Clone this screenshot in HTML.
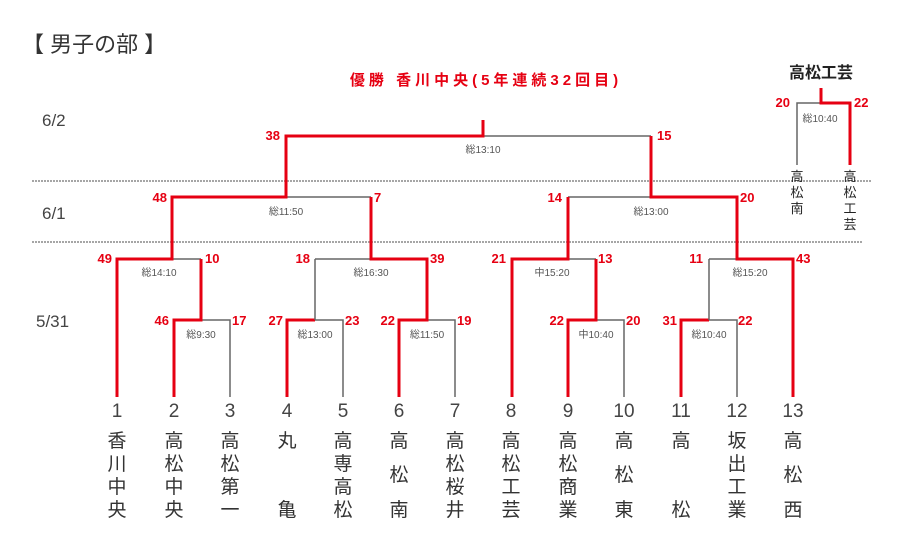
<!DOCTYPE html>
<html><head><meta charset="utf-8"><style>
html,body{margin:0;padding:0;background:#fff;}
svg{display:block;}
text{font-family:"Liberation Sans","Noto Sans CJK JP",sans-serif;}
.s{fill:#e60012;font-size:13px;font-weight:bold;}
.t{fill:#555;font-size:10px;text-anchor:middle;}
.g{stroke:#666;stroke-width:1.5;fill:none;}
.r{stroke:#e60012;stroke-width:3;fill:none;}
.n{fill:#444;font-size:19px;text-anchor:middle;}
.d{fill:#444;font-size:17px;}
</style></head><body>
<svg width="900" height="550" viewBox="0 0 900 550" xmlns="http://www.w3.org/2000/svg">
<text x="22" y="52" font-size="22" fill="#333">【 男子の部 】</text>
<text x="486" y="85" font-size="15" font-weight="bold" fill="#e60012" text-anchor="middle" letter-spacing="4">優勝 香川中央(5年連続32回目)</text>
<text x="42" y="126" class="d">6/2</text>
<text x="42" y="219" class="d">6/1</text>
<text x="36" y="327" class="d">5/31</text>
<line x1="32" y1="181" x2="872" y2="181" stroke="#888" stroke-width="1.5" stroke-dasharray="2,1"/>
<line x1="32" y1="242" x2="862" y2="242" stroke="#888" stroke-width="1.5" stroke-dasharray="2,1"/>

<path class="g" d="M286 136H651 M172 197H371 M568 197H737 M117 259H201 M315 259H427 M512 259H596 M709 259H793 M173 320H230V397 M287 320H343V397 M399 320H455V397 M568 320H624V397 M681 320H737V397"/>
<path class="r" d="M483 120V136H286V197H172V259H117V397"/>
<path class="r" d="M174 397V320H201V259"/>
<path class="r" d="M287 397V320H315"/>
<path class="r" d="M399 397V320H427V259H371V197"/>
<path class="r" d="M512 397V259H568V197"/>
<path class="r" d="M568 397V320H596V259"/>
<path class="r" d="M681 397V320H709"/>
<path class="r" d="M793 397V259H737V197H651V136"/>
<path class="g" d="M315 320V259 M709 320V259"/>

<text class="s" x="280" y="140" text-anchor="end">38</text>
<text class="s" x="657" y="140">15</text>
<text class="s" x="167" y="202" text-anchor="end">48</text>
<text class="s" x="374" y="202">7</text>
<text class="s" x="562" y="202" text-anchor="end">14</text>
<text class="s" x="740" y="202">20</text>
<text class="s" x="112" y="263" text-anchor="end">49</text>
<text class="s" x="205" y="263">10</text>
<text class="s" x="310" y="263" text-anchor="end">18</text>
<text class="s" x="430" y="263">39</text>
<text class="s" x="506" y="263" text-anchor="end">21</text>
<text class="s" x="598" y="263">13</text>
<text class="s" x="703" y="263" text-anchor="end">11</text>
<text class="s" x="796" y="263">43</text>
<text class="s" x="169" y="325" text-anchor="end">46</text>
<text class="s" x="232" y="325">17</text>
<text class="s" x="283" y="325" text-anchor="end">27</text>
<text class="s" x="345" y="325">23</text>
<text class="s" x="395" y="325" text-anchor="end">22</text>
<text class="s" x="457" y="325">19</text>
<text class="s" x="564" y="325" text-anchor="end">22</text>
<text class="s" x="626" y="325">20</text>
<text class="s" x="677" y="325" text-anchor="end">31</text>
<text class="s" x="738" y="325">22</text>

<text class="t" x="483" y="153">総13:10</text>
<text class="t" x="286" y="215">総11:50</text>
<text class="t" x="651" y="215">総13:00</text>
<text class="t" x="159" y="276">総14:10</text>
<text class="t" x="371" y="276">総16:30</text>
<text class="t" x="552" y="276">中15:20</text>
<text class="t" x="750" y="276">総15:20</text>
<text class="t" x="201" y="338">総9:30</text>
<text class="t" x="315" y="338">総13:00</text>
<text class="t" x="427" y="338">総11:50</text>
<text class="t" x="596" y="338">中10:40</text>
<text class="t" x="709" y="338">総10:40</text>

<text x="821" y="78" font-size="16" font-weight="bold" fill="#222" text-anchor="middle">高松工芸</text>
<path class="g" d="M797 165V103H850"/>
<path class="r" d="M821 88V103H850V165"/>
<text class="s" x="790" y="107" text-anchor="end">20</text>
<text class="s" x="854" y="107">22</text>
<text class="t" x="820" y="122">総10:40</text>
<g font-size="13" fill="#222" text-anchor="middle">
<text x="797" y="181">高</text><text x="797" y="197">松</text><text x="797" y="213">南</text>
<text x="850" y="181">高</text><text x="850" y="197">松</text><text x="850" y="213">工</text><text x="850" y="229">芸</text>
</g>

<g>
<text x="117" y="417" class="n">1</text><text x="174" y="417" class="n">2</text><text x="230" y="417" class="n">3</text>
<text x="287" y="417" class="n">4</text><text x="343" y="417" class="n">5</text><text x="399" y="417" class="n">6</text>
<text x="455" y="417" class="n">7</text><text x="511" y="417" class="n">8</text><text x="568" y="417" class="n">9</text>
<text x="624" y="417" class="n">10</text><text x="681" y="417" class="n">11</text><text x="737" y="417" class="n">12</text>
<text x="793" y="417" class="n">13</text>
</g>
<g fill="#333" font-size="19" text-anchor="middle">
<text x="117" y="447">香</text><text x="117" y="470">川</text><text x="117" y="493">中</text><text x="117" y="516">央</text>
<text x="174" y="447">高</text><text x="174" y="470">松</text><text x="174" y="493">中</text><text x="174" y="516">央</text>
<text x="230" y="447">高</text><text x="230" y="470">松</text><text x="230" y="493">第</text><text x="230" y="516">一</text>
<text x="287" y="447">丸</text><text x="287" y="516">亀</text>
<text x="343" y="447">高</text><text x="343" y="470">専</text><text x="343" y="493">高</text><text x="343" y="516">松</text>
<text x="399" y="447">高</text><text x="399" y="481">松</text><text x="399" y="516">南</text>
<text x="455" y="447">高</text><text x="455" y="470">松</text><text x="455" y="493">桜</text><text x="455" y="516">井</text>
<text x="511" y="447">高</text><text x="511" y="470">松</text><text x="511" y="493">工</text><text x="511" y="516">芸</text>
<text x="568" y="447">高</text><text x="568" y="470">松</text><text x="568" y="493">商</text><text x="568" y="516">業</text>
<text x="624" y="447">高</text><text x="624" y="481">松</text><text x="624" y="516">東</text>
<text x="681" y="447">高</text><text x="681" y="516">松</text>
<text x="737" y="447">坂</text><text x="737" y="470">出</text><text x="737" y="493">工</text><text x="737" y="516">業</text>
<text x="793" y="447">高</text><text x="793" y="481">松</text><text x="793" y="516">西</text>
</g>
</svg>
</body></html>
